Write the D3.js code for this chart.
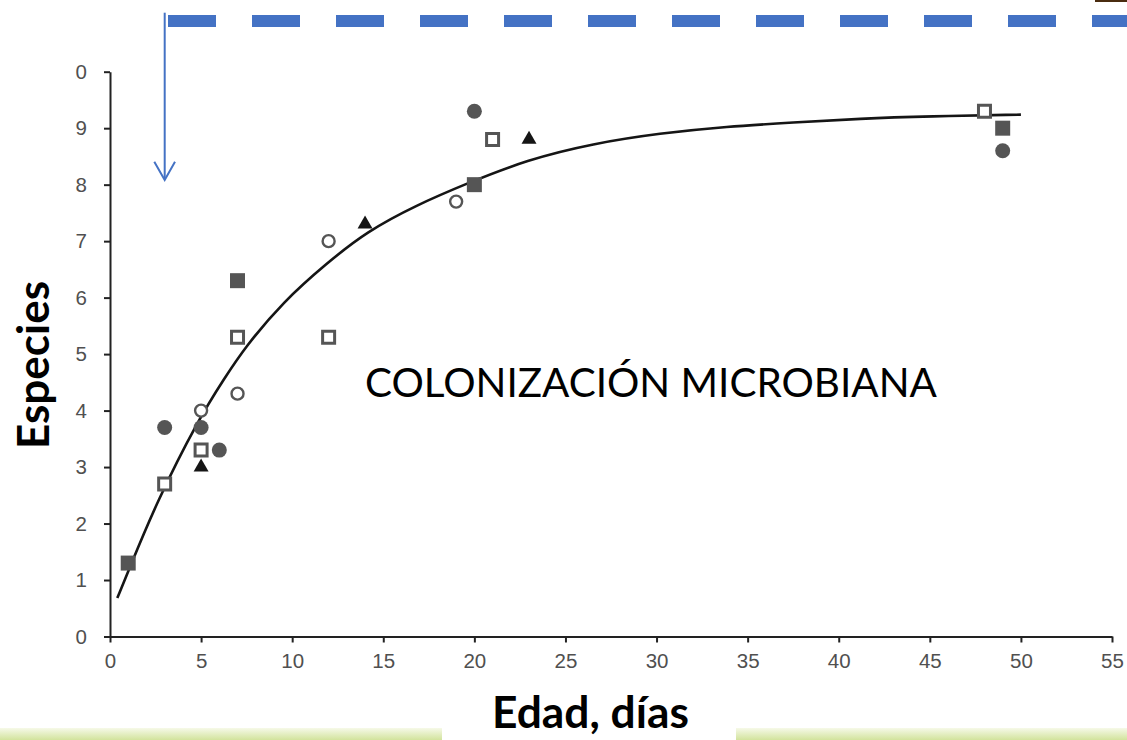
<!DOCTYPE html>
<html><head><meta charset="utf-8">
<script src="https://cdn.jsdelivr.net/npm/d3@7"></script>
<style>html,body{margin:0;padding:0;background:#fff;} svg{display:block;}</style>
</head><body>
<svg id="c" width="1127" height="740"></svg>
<script>
// ---- data ----
const filledSquareX = [1, 7, 20, 49];
const filledSquareY = [1.3, 6.3, 8.0, 9.0];
const openSquareX = [3, 5, 7, 12, 21, 48];
const openSquareY = [2.7, 3.3, 5.3, 5.3, 8.8, 9.3];
const filledCircleX = [3, 5, 6, 20, 49];
const filledCircleY = [3.7, 3.7, 3.3, 9.3, 8.6];
const openCircleX = [5, 7, 12, 19];
const openCircleY = [4.0, 4.3, 7.0, 7.7];
const triangleX = [5, 14, 23];
const triangleY = [3.0, 7.3, 8.8];
// trend curve
const curveX = [0.4, 1.06, 2.56, 4.88, 6.3, 7.41, 9.51, 11.9, 14.09, 16.83, 19.58, 22.87, 26.53, 30.19, 33.85, 37.5, 41.16, 45, 50];
const curveY = [0.68, 1.2, 2.38, 3.86, 4.58, 5.12, 5.93, 6.61, 7.17, 7.64, 8.02, 8.44, 8.73, 8.91, 9.03, 9.1, 9.17, 9.21, 9.24];
const xTickValues = [0, 5, 10, 15, 20, 25, 30, 35, 40, 45, 50, 55];
const yTickValues = [0, 1, 2, 3, 4, 5, 6, 7, 8, 9, 10];
const xTitle = "Edad, días";
const yTitle = "Especies";
const noteText = "COLONIZACIÓN MICROBIANA";

const svg = d3.select("#c");
const W = 1127, H = 740;
svg.append("rect").attr("width", W).attr("height", H).attr("fill", "#fff");

const x = d3.scaleLinear().domain([0, 55]).range([110, 1112]);
const y = d3.scaleLinear().domain([0, 10]).range([636.5, 71.7]);

const defs = svg.append("defs");
const g1 = defs.append("linearGradient").attr("id", "greenGrad").attr("x1", 0).attr("y1", 0).attr("x2", 0).attr("y2", 1);
g1.append("stop").attr("offset", "0%").attr("stop-color", "#f6f9e8");
g1.append("stop").attr("offset", "100%").attr("stop-color", "#d2e39c");
// clip the y-axis group (local coords, group translated by x(0)) so the leading "1" of "10" is cut as in the picture
defs.append("clipPath").attr("id", "ylabClip").append("rect")
  .attr("x", 75 - x(0)).attr("y", 0).attr("width", W).attr("height", H);

// decorative slide elements
svg.append("rect").attr("x", 0).attr("y", 728).attr("width", 442).attr("height", 12).attr("fill", "url(#greenGrad)");
svg.append("rect").attr("x", 736).attr("y", 728).attr("width", W - 736).attr("height", 12).attr("fill", "url(#greenGrad)");
svg.append("rect").attr("x", 1095).attr("y", 0).attr("width", 32).attr("height", 2).attr("fill", "#4a2c10");
svg.append("line").attr("x1", 168).attr("x2", W + 40).attr("y1", 21).attr("y2", 21)
  .attr("stroke", "#4472c4").attr("stroke-width", 12).attr("stroke-dasharray", "48 36");
svg.append("line").attr("x1", 164.7).attr("x2", 164.7).attr("y1", 12.7).attr("y2", 179)
  .attr("stroke", "#4472c4").attr("stroke-width", 2);
svg.append("path").attr("d", "M154.3,161.7 L164.7,180 L175,161.7")
  .attr("fill", "none").attr("stroke", "#4472c4").attr("stroke-width", 2);

// axes
const axisFont = "'Liberation Sans', Arial, sans-serif";
const xAxis = svg.append("g").attr("transform", `translate(0,${y(0)})`)
  .call(d3.axisBottom(x).tickValues(xTickValues).tickSize(6).tickSizeOuter(0).tickPadding(11));
const yAxis = svg.append("g").attr("transform", `translate(${x(0)},0)`)
  .attr("clip-path", "url(#ylabClip)")
  .call(d3.axisLeft(y).tickValues(yTickValues).tickSize(6).tickSizeOuter(0).tickPadding(17));
[xAxis, yAxis].forEach(a => {
  a.select(".domain").attr("stroke", "#222").attr("stroke-width", 2);
  a.selectAll(".tick line").attr("stroke", "#222").attr("stroke-width", 2);
  a.selectAll(".tick text").attr("fill", "#505050").attr("font-family", axisFont).attr("font-size", 20.5);
});

// trend curve
const curvePts = curveX.map((v, i) => [v, curveY[i]]);
svg.append("path").datum(curvePts)
  .attr("d", d3.line().x(d => x(d[0])).y(d => y(d[1])).curve(d3.curveBasis))
  .attr("fill", "none").attr("stroke", "#151515").attr("stroke-width", 2.6);

// markers
const gray = "#555";
function pts(xs, ys) { return xs.map((v, i) => [v, ys[i]]); }
const mk = svg.append("g");
mk.selectAll(".fs").data(pts(filledSquareX, filledSquareY)).join("path")
  .attr("transform", d => `translate(${x(d[0])},${y(d[1])})`)
  .attr("d", d3.symbol(d3.symbolSquare, 225)).attr("fill", gray);
mk.selectAll(".fc").data(pts(filledCircleX, filledCircleY)).join("path")
  .attr("transform", d => `translate(${x(d[0])},${y(d[1])})`)
  .attr("d", d3.symbol(d3.symbolCircle, 177)).attr("fill", gray);
mk.selectAll(".os").data(pts(openSquareX, openSquareY)).join("path")
  .attr("transform", d => `translate(${x(d[0])},${y(d[1])})`)
  .attr("d", d3.symbol(d3.symbolSquare, 144)).attr("fill", "#fff").attr("stroke", gray).attr("stroke-width", 3);
mk.selectAll(".oc").data(pts(openCircleX, openCircleY)).join("path")
  .attr("transform", d => `translate(${x(d[0])},${y(d[1])})`)
  .attr("d", d3.symbol(d3.symbolCircle, 113)).attr("fill", "#fff").attr("stroke", gray).attr("stroke-width", 2.4);
mk.selectAll(".tr").data(pts(triangleX, triangleY)).join("path")
  .attr("transform", d => `translate(${x(d[0])},${y(d[1])})`)
  .attr("d", d3.symbol(d3.symbolTriangle, 97)).attr("fill", "#151515");

// texts
function fit(sel, target) {
  const len = sel.node().getComputedTextLength();
  const fs = parseFloat(sel.attr("font-size"));
  sel.attr("font-size", fs * target / len);
}
const titleFont = "Lato, 'Open Sans', sans-serif";
const note = svg.append("text").attr("x", 365).attr("y", 396.7)
  .attr("font-family", titleFont).attr("font-size", 40).attr("fill", "#000").text(noteText);
fit(note, 572);
const xt = svg.append("text").attr("x", 590.5).attr("y", 728.3).attr("text-anchor", "middle")
  .attr("font-family", titleFont).attr("font-weight", 700).attr("font-size", 36).attr("fill", "#000").text(xTitle);
fit(xt, 197);
const yt = svg.append("text").attr("transform", "translate(49,365) rotate(-90)").attr("text-anchor", "middle")
  .attr("font-family", titleFont).attr("font-weight", 700).attr("font-size", 40).attr("fill", "#000").text(yTitle);
fit(yt, 168);
</script>
</body></html>
